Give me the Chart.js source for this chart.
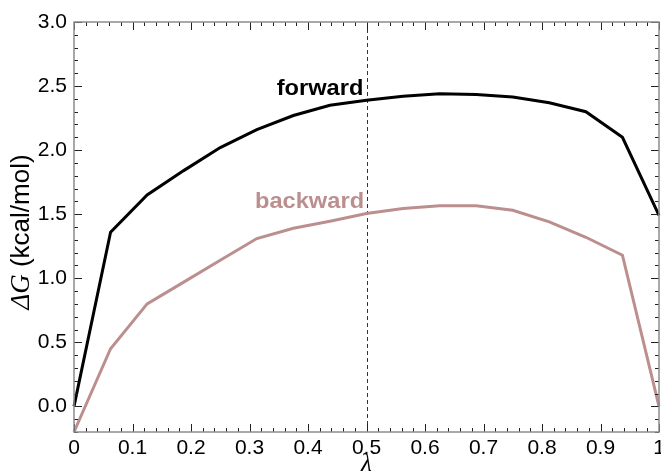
<!DOCTYPE html>
<html>
<head>
<meta charset="utf-8">
<script src="https://cdn.jsdelivr.net/npm/chart.js@4.4.1/dist/chart.umd.min.js"></script>
<style>
    html, body { margin: 0; padding: 0; background: #ffffff; }
    #grafica { display: block; }
</style>
</head>
<body>
<canvas id="grafica" width="661" height="475"></canvas>
<script>
// Ventanas de lambda (16 intervalos)
const lambdas = [0, 0.0625, 0.125, 0.1875, 0.25, 0.3125, 0.375, 0.4375, 0.5,
    0.5625, 0.625, 0.6875, 0.75, 0.8125, 0.875, 0.9375, 1];

// Energía libre acumulada (kcal/mol)
const forward = [0.00, 1.36, 1.65, 1.84, 2.02, 2.16, 2.27, 2.35, 2.39,
    2.42, 2.44, 2.435, 2.415, 2.37, 2.30, 2.10, 1.49];
const backward = [-0.20, 0.45, 0.80, 0.97, 1.14, 1.31, 1.39, 1.445, 1.505,
    1.545, 1.565, 1.565, 1.53, 1.44, 1.32, 1.18, 0.00];

// Marcas de los ejes
const xTicks = [0, 0.1, 0.2, 0.3, 0.4, 0.5, 0.6, 0.7, 0.8, 0.9, 1];
const xTickLabels = ['0', '0.1', '0.2', '0.3', '0.4', '0.5', '0.6', '0.7', '0.8', '0.9', '1'];
const yTicks = [0, 0.5, 1, 1.5, 2, 2.5, 3];
const yTickLabels = ['0.0', '0.5', '1.0', '1.5', '2.0', '2.5', '3.0'];

const colorForward = '#000000';
const colorBackward = '#bc8f8f';

// Marco, marcas hacia dentro, línea discontinua y textos
const marcoPlugin = {
    id: 'marco',
    beforeDatasetsDraw(chart) {
        const { ctx, chartArea: a, scales: { x } } = chart;
        const px = Math.round(x.getPixelForValue(0.5)) + 0.5;
        ctx.save();
        ctx.strokeStyle = '#333333';
        ctx.lineWidth = 1;
        ctx.setLineDash([4, 3]);
        ctx.beginPath();
        ctx.moveTo(px, a.top);
        ctx.lineTo(px, a.bottom);
        ctx.stroke();
        ctx.restore();
    },
    afterDatasetsDraw(chart) {
        const { ctx, chartArea: a, scales: { x, y } } = chart;
        ctx.save();
        ctx.strokeStyle = '#222222';
        ctx.lineWidth = 1;
        ctx.beginPath();
        for (let i = 0; i <= 50; i++) {
            const px = Math.round(x.getPixelForValue(i / 50)) + 0.5;
            const len = i % 5 === 0 ? 8 : 4;
            ctx.moveTo(px, a.bottom); ctx.lineTo(px, a.bottom - len);
            ctx.moveTo(px, a.top); ctx.lineTo(px, a.top + len);
        }
        for (let i = -2; i <= 30; i++) {
            const py = Math.round(y.getPixelForValue(i / 10)) + 0.5;
            const len = i % 5 === 0 ? 8 : 4;
            ctx.moveTo(a.left, py); ctx.lineTo(a.left + len, py);
            ctx.moveTo(a.right, py); ctx.lineTo(a.right - len, py);
        }
        ctx.stroke();

        // Marco gris
        ctx.strokeStyle = '#8c8c8c';
        ctx.lineWidth = 1.5;
        ctx.strokeRect(a.left, a.top, a.right - a.left, a.bottom - a.top);

        // Etiquetas de las curvas
        const etiqueta = (texto, lx, ly, color) => {
            ctx.save();
            ctx.translate(x.getPixelForValue(lx), y.getPixelForValue(ly));
            ctx.scale(1.1, 1);
            ctx.font = 'bold 21.5px "Liberation Sans", Arial, sans-serif';
            ctx.fillStyle = color;
            ctx.textAlign = 'center';
            ctx.textBaseline = 'alphabetic';
            ctx.fillText(texto, 0, 0);
            ctx.restore();
        };
        etiqueta('forward', 0.4205, 2.431, colorForward);
        etiqueta('backward', 0.4026, 1.551, colorBackward);
        ctx.restore();
    },
    afterDraw(chart) {
        const { ctx, scales: { x } } = chart;
        ctx.save();
        ctx.fillStyle = '#000000';

        // Título del eje y: ΔG (kcal/mol)
        const f1 = 'italic 27px "Liberation Serif", "DejaVu Serif", serif';
        const f2 = '26px "Liberation Sans", Arial, sans-serif';
        const t1 = '\u0394G';
        const t2 = ' (kcal/mol)';
        ctx.font = f1;
        const w1 = ctx.measureText(t1).width;
        ctx.font = f2;
        const w2 = ctx.measureText(t2).width;
        ctx.translate(22, 232);
        ctx.rotate(-Math.PI / 2);
        ctx.textBaseline = 'middle';
        ctx.textAlign = 'left';
        ctx.font = f1;
        ctx.fillText(t1, -(w1 + w2) / 2, 0);
        ctx.font = f2;
        ctx.fillText(t2, -(w1 + w2) / 2 + w1, 0);
        ctx.setTransform(1, 0, 0, 1, 0, 0);

        // Título del eje x: λ
        ctx.font = 'italic 25px "Liberation Serif", "DejaVu Serif", serif';
        ctx.textAlign = 'center';
        ctx.textBaseline = 'middle';
        ctx.fillText('\u03bb', x.getPixelForValue(0.5), 464);
        ctx.restore();
    }
};

const puntos = serie => lambdas.map((l, i) => ({ x: l, y: serie[i] }));

const fuenteTicks = { family: '"Liberation Sans", Arial, sans-serif', size: 21 };

new Chart(document.getElementById('grafica').getContext('2d'), {
    type: 'line',
    data: {
        datasets: [
            {
                label: 'forward',
                data: puntos(forward),
                borderColor: colorForward,
                borderWidth: 3,
                pointRadius: 0,
                tension: 0,
                clip: false
            },
            {
                label: 'backward',
                data: puntos(backward),
                borderColor: colorBackward,
                borderWidth: 3,
                pointRadius: 0,
                tension: 0,
                clip: false
            }
        ]
    },
    options: {
        responsive: false,
        animation: false,
        layout: { padding: { top: 22, right: 2, left: 0, bottom: 0 } },
        plugins: {
            legend: { display: false },
            tooltip: { enabled: false }
        },
        scales: {
            x: {
                type: 'linear',
                min: 0,
                max: 1,
                grid: { display: false, drawTicks: false },
                border: { display: false },
                afterBuildTicks: scale => { scale.ticks = xTicks.map(v => ({ value: v })); },
                afterFit: scale => {
                    scale.height = 43;
                    scale.paddingLeft = 0;
                    scale.paddingRight = 0;
                },
                ticks: {
                    font: fuenteTicks,
                    color: '#000000',
                    padding: 4,
                    maxRotation: 0,
                    autoSkip: false,
                    callback: v => xTickLabels[xTicks.indexOf(v)] ?? ''
                }
            },
            y: {
                type: 'linear',
                min: -0.2,
                max: 3.0,
                grid: { display: false, drawTicks: false },
                border: { display: false },
                afterBuildTicks: scale => { scale.ticks = yTicks.map(v => ({ value: v })); },
                afterFit: scale => {
                    scale.width = 74;
                    scale.paddingTop = 0;
                    scale.paddingBottom = 0;
                },
                ticks: {
                    font: fuenteTicks,
                    color: '#000000',
                    padding: 7,
                    autoSkip: false,
                    callback: v => yTickLabels[yTicks.indexOf(v)] ?? ''
                }
            }
        }
    },
    plugins: [marcoPlugin]
});
</script>
</body>
</html>
